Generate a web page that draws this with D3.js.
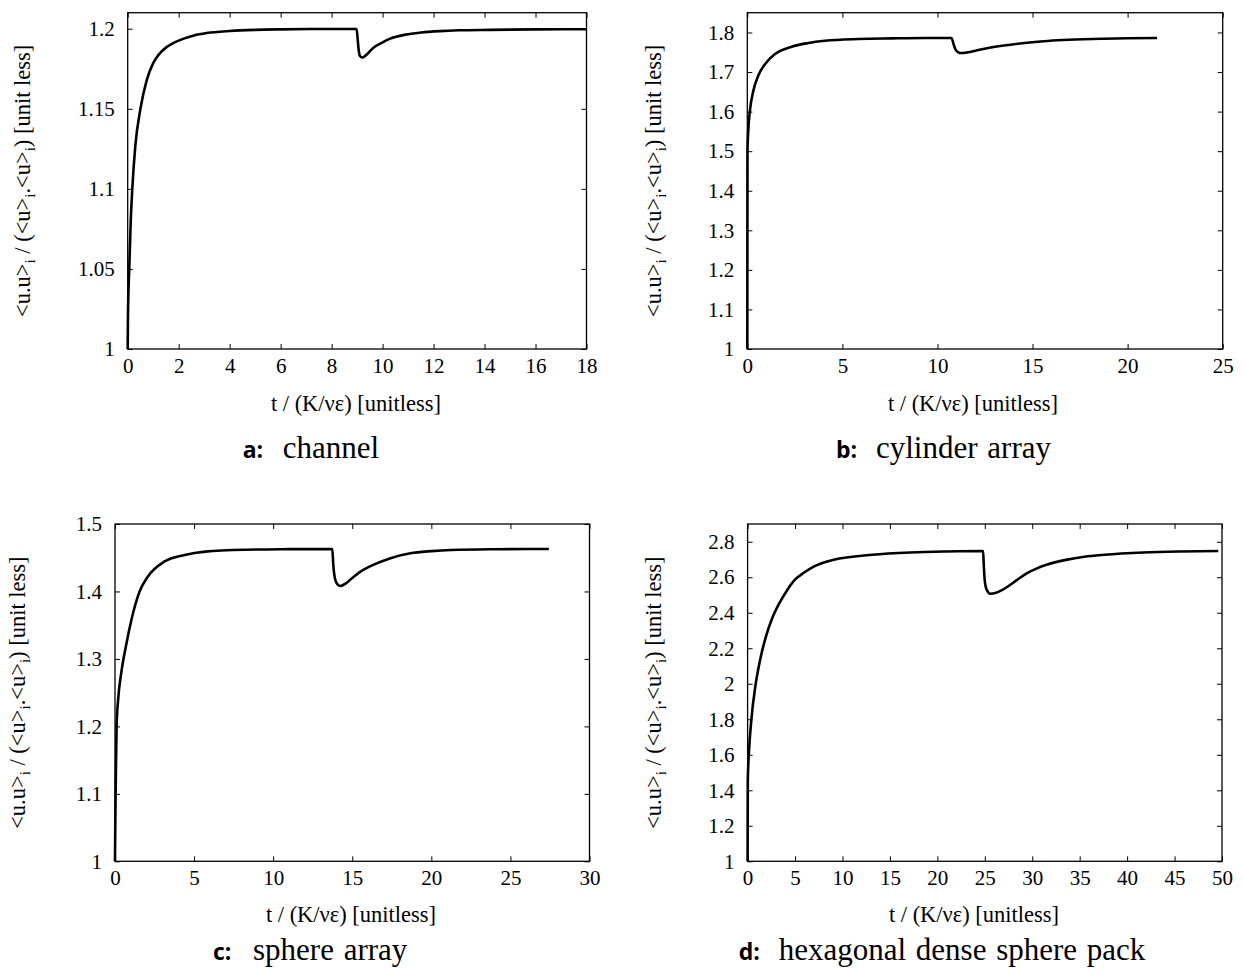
<!DOCTYPE html>
<html>
<head>
<meta charset="utf-8">
<script src="https://cdn.jsdelivr.net/npm/d3@7"></script>
<style>
  html, body { margin: 0; padding: 0; background: #fff; }
  svg { display: block; }
</style>
</head>
<body>
<svg id="fig" width="1244" height="979"></svg>
<script>
// ---- data: normalised kinetic energy <u.u>_i / (<u>_i.<u>_i) versus time ----

// a: channel
const channelT = [0, 0.01, 0.06, 0.12, 0.18, 0.3, 0.5, 0.75, 1.0, 1.2, 1.5, 1.8, 2.2, 2.6, 3.1, 4.0, 5.0, 6.0, 7.5, 8.98,
                  9.02, 9.06, 9.12, 9.2, 9.35, 9.63, 10.0, 10.3, 10.9, 11.5, 12.25, 13.0, 14.2, 16.0, 18.0];
const channelV = [1.0, 1.02, 1.05, 1.08, 1.10, 1.127, 1.15, 1.168, 1.1785, 1.1835, 1.1882, 1.1911, 1.1938, 1.1958, 1.1973, 1.1986, 1.1993, 1.1996, 1.1998, 1.1998,
                  1.194, 1.187, 1.1828, 1.182, 1.1835, 1.188, 1.1915, 1.1938, 1.1963, 1.1976, 1.1985, 1.199, 1.1993, 1.1996, 1.1997];

// b: cylinder array
const cylinderT = [0, 0.01, 0.05, 0.14, 0.32, 0.58, 0.93, 1.46, 2.33, 3.2, 4.09, 5.84, 7.6, 9.34, 10.74,
                   10.85, 10.95, 11.1, 11.24, 11.6, 12.0, 12.55, 13.5, 14.58, 15.6, 16.6, 18.6, 20.0, 21.55];
const cylinderV = [1.0, 1.50, 1.552, 1.603, 1.653, 1.691, 1.720, 1.7456, 1.764, 1.7733, 1.779, 1.7834, 1.785, 1.786, 1.786,
                   1.770, 1.757, 1.750, 1.748, 1.750, 1.754, 1.7597, 1.767, 1.7733, 1.778, 1.781, 1.784, 1.7855, 1.786];

// c: sphere array
const sphereT = [0, 0.02, 0.05, 0.1, 0.2, 0.4, 0.7, 1.04, 1.55, 2.07, 3.11, 4.4, 5.7, 8.3, 11.0, 13.74,
                 13.8, 13.9, 14.05, 14.26, 14.6, 15.0, 15.5, 16.08, 17.37, 18.67, 20.0, 21.26, 24.0, 27.43];
const sphereV = [1.0, 1.06, 1.12, 1.20, 1.24, 1.28, 1.32, 1.358, 1.3997, 1.4219, 1.4441, 1.454, 1.459, 1.4619, 1.4627, 1.463,
                 1.44, 1.42, 1.411, 1.4081, 1.412, 1.420, 1.429, 1.4367, 1.449, 1.4566, 1.4598, 1.4615, 1.4626, 1.463];

// d: hexagonal dense sphere pack
const hexT = [0, 0.02, 0.15, 0.4, 0.8, 1.3, 1.9, 2.6, 3.35, 4.2, 4.99, 6.0, 7.02, 9.07, 13.15, 17.2, 21.0, 24.82,
              24.9, 25.0, 25.2, 25.6, 26.2, 26.8, 27.43, 28.4, 29.46, 30.5, 31.5, 33.55, 35.5, 37.6, 41.7, 45.5, 49.6];
const hexV = [1.0, 1.45, 1.62, 1.80, 1.98, 2.13, 2.26, 2.37, 2.454, 2.53, 2.586, 2.628, 2.661, 2.698, 2.7266, 2.7396, 2.745, 2.7475,
              2.66, 2.58, 2.53, 2.507, 2.513, 2.527, 2.548, 2.585, 2.623, 2.650, 2.670, 2.698, 2.716, 2.727, 2.7396, 2.745, 2.7475];

// axis ranges and ticks
const channelXTicks  = [0, 2, 4, 6, 8, 10, 12, 14, 16, 18];
const channelYTicks  = [1, 1.05, 1.1, 1.15, 1.2];
const cylinderXTicks = [0, 5, 10, 15, 20, 25];
const cylinderYTicks = [1, 1.1, 1.2, 1.3, 1.4, 1.5, 1.6, 1.7, 1.8];
const sphereXTicks   = [0, 5, 10, 15, 20, 25, 30];
const sphereYTicks   = [1, 1.1, 1.2, 1.3, 1.4, 1.5];
const hexXTicks      = [0, 5, 10, 15, 20, 25, 30, 35, 40, 45, 50];
const hexYTicks      = [1, 1.2, 1.4, 1.6, 1.8, 2, 2.2, 2.4, 2.6, 2.8];

const channelXDomain = [0, 18],  channelYDomain = [1, 1.21];
const cylinderXDomain = [0, 25], cylinderYDomain = [1, 1.85];
const sphereXDomain = [0, 30],   sphereYDomain = [1, 1.5];
const hexXDomain = [0, 50],      hexYDomain = [1, 2.9];

const panelLetters = ["a:", "b:", "c:", "d:"];
const panelNames = ["channel", "cylinder array", "sphere array", "hexagonal dense sphere pack"];

// ---- figure layout (pixels) ----
const frames = [
  { left: 127.7, right: 586.5, top: 12.7, bottom: 349,   yTitleX: 30,  xTitleCx: 356, xTitleY: 411, capX: 242.7, capY: 457.5 },
  { left: 747.3, right: 1222.7, top: 12.7, bottom: 349,  yTitleX: 661, xTitleCx: 973, xTitleY: 411, capX: 836,   capY: 457.5 },
  { left: 115,   right: 589.5, top: 524,  bottom: 861.3, yTitleX: 25,  xTitleCx: 351, xTitleY: 922, capX: 213,   capY: 959.5 },
  { left: 747.6, right: 1222,  top: 524,  bottom: 861.3, yTitleX: 661, xTitleCx: 974, xTitleY: 922, capX: 738.7, capY: 959.5 }
];

const panels = [
  { t: channelT,  v: channelV,  xd: channelXDomain,  yd: channelYDomain,  xt: channelXTicks,  yt: channelYTicks },
  { t: cylinderT, v: cylinderV, xd: cylinderXDomain, yd: cylinderYDomain, xt: cylinderXTicks, yt: cylinderYTicks },
  { t: sphereT,   v: sphereV,   xd: sphereXDomain,   yd: sphereYDomain,   xt: sphereXTicks,   yt: sphereYTicks },
  { t: hexT,      v: hexV,      xd: hexXDomain,      yd: hexYDomain,      xt: hexXTicks,      yt: hexYTicks }
];

const SERIF = "'Liberation Serif', 'Times New Roman', Times, serif";
const SANS = "'Open Sans', 'DejaVu Sans', sans-serif";
const TICK_FS = 21, TITLE_FS = 22.5, CAP_FS = 31, LETTER_FS = 23;
const TICK_LEN = 5;

const svg = d3.select("#fig");
svg.append("rect").attr("width", 1244).attr("height", 979).attr("fill", "#fff");

panels.forEach((p, i) => {
  const f = frames[i];
  const x = d3.scaleLinear().domain(p.xd).range([f.left, f.right]);
  const y = d3.scaleLinear().domain(p.yd).range([f.bottom, f.top]);
  const g = svg.append("g");

  const fmt = d => String(d);

  // axes with inward ticks on all four sides (labels only bottom and left)
  const styleAxis = sel => {
    sel.select(".domain").remove();
    sel.selectAll(".tick line").attr("stroke", "#000").attr("stroke-width", 1);
    sel.selectAll("text").attr("font-family", SERIF).attr("font-size", TICK_FS).attr("fill", "#000");
  };
  g.append("g").attr("transform", `translate(0,${f.bottom})`)
    .call(d3.axisBottom(x).tickValues(p.xt).tickFormat(fmt).tickSize(-TICK_LEN).tickPadding(9))
    .call(styleAxis);
  g.append("g").attr("transform", `translate(0,${f.top})`)
    .call(d3.axisTop(x).tickValues(p.xt).tickFormat("").tickSize(-TICK_LEN))
    .call(styleAxis);
  g.append("g").attr("transform", `translate(${f.left},0)`)
    .call(d3.axisLeft(y).tickValues(p.yt).tickFormat(fmt).tickSize(-TICK_LEN).tickPadding(13))
    .call(styleAxis);
  g.append("g").attr("transform", `translate(${f.right},0)`)
    .call(d3.axisRight(y).tickValues(p.yt).tickFormat("").tickSize(-TICK_LEN))
    .call(styleAxis);

  // plot border
  g.append("rect")
    .attr("x", f.left).attr("y", f.top)
    .attr("width", f.right - f.left).attr("height", f.bottom - f.top)
    .attr("fill", "none").attr("stroke", "#000").attr("stroke-width", 1.3);

  // curve
  const pts = p.t.map((t, k) => [t, p.v[k]]);
  const line = d3.line().x(d => x(d[0])).y(d => y(d[1])).curve(d3.curveMonotoneX);
  g.append("path").datum(pts)
    .attr("d", line)
    .attr("fill", "none").attr("stroke", "#000")
    .attr("stroke-width", 2.6).attr("stroke-linejoin", "round");

  // x axis title
  g.append("text")
    .attr("x", f.xTitleCx).attr("y", f.xTitleY)
    .attr("text-anchor", "middle")
    .attr("font-family", SERIF).attr("font-size", TITLE_FS)
    .text("t / (K/νε) [unitless]");

  // y axis title with subscripts
  const cy = (f.top + f.bottom) / 2;
  const yt = g.append("text")
    .attr("transform", `translate(${f.yTitleX},${cy}) rotate(-90)`)
    .attr("text-anchor", "middle")
    .attr("font-family", SERIF).attr("font-size", TITLE_FS);
  const parts = [["<u.u>", false], ["i", true], [" / (<u>", false], ["i", true], [".<u>", false], ["i", true], [") [unit less]", false]];
  let shifted = false;
  parts.forEach(([txt, sub]) => {
    const ts = yt.append("tspan").text(txt);
    if (sub && !shifted) { ts.attr("dy", 5).attr("font-size", 15); shifted = true; }
    else if (sub) { ts.attr("font-size", 15); }
    else if (shifted) { ts.attr("dy", -5); shifted = false; }
  });

  // panel caption
  g.append("text")
    .attr("x", f.capX).attr("y", f.capY)
    .attr("font-family", SANS).attr("font-weight", "bold").attr("font-size", LETTER_FS)
    .text(panelLetters[i]);
  g.append("text")
    .attr("x", f.capX + 40).attr("y", f.capY)
    .attr("font-family", SERIF).attr("font-size", CAP_FS)
    .attr("word-spacing", 2)
    .text(panelNames[i]);
});
</script>
</body>
</html>
